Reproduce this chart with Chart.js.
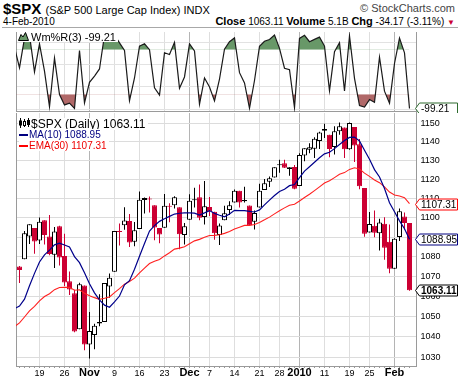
<!DOCTYPE html>
<html>
<head>
<meta charset="utf-8">
<script src="https://cdn.jsdelivr.net/npm/chart.js@4.4.1/dist/chart.umd.min.js"></script>
<style>
  html, body { margin:0; padding:0; background:#fff; }
  body { width:460px; height:383px; position:relative; overflow:hidden; font-family:"Liberation Sans", Arial, sans-serif; color:#000; }
  .abs { position:absolute; white-space:nowrap; }
  canvas { position:absolute; left:0; }
  #wr { top:32px; }
  #px { top:113px; }
  .lg { background:#fff; }
</style>
</head>
<body>
<div class="abs" style="left:3px;top:1px;font-weight:bold;font-size:15px;line-height:15px;">$SPX <span style="font-weight:normal;font-size:11px;">(S&amp;P 500 Large Cap Index) INDX</span></div>
<div class="abs" style="right:5px;top:3px;font-size:11px;line-height:11px;color:#444;">&copy; StockCharts.com</div>
<div class="abs" style="left:3px;top:16px;font-size:10px;line-height:11px;">4-Feb-2010</div>
<div class="abs" id="hquote" style="right:5px;top:15px;font-size:10px;line-height:12px;"></div>
<div class="abs" style="left:2px;top:27px;width:456px;height:1px;background:#a8a8a8;"></div>

<canvas id="wr" width="460" height="81"></canvas>
<canvas id="px" width="460" height="270"></canvas>

<div class="abs lg" style="left:18px;top:32px;font-size:11px;line-height:10px;padding-right:2px;"><svg width="11" height="9" style="vertical-align:top;margin-right:2px"><polygon points="0.5,8.5 3,2.5 5,5 7.5,0.5 10.5,8.5" fill="#689868" stroke="#000" stroke-width="1"/></svg>Wm%R(3) <span id="lgwr"></span></div>

<div class="abs lg" style="left:18px;top:118px;font-size:12px;line-height:12px;padding-right:2px;"><svg width="12" height="10" style="vertical-align:top;margin-right:1px"><line x1="2.5" y1="0" x2="2.5" y2="10" stroke="#000"/><rect x="1" y="2.5" width="3" height="5" fill="#000"/><line x1="6.5" y1="1" x2="6.5" y2="9" stroke="#000"/><rect x="5.5" y="3.5" width="2" height="4" fill="#fff" stroke="#000"/><line x1="10.5" y1="0" x2="10.5" y2="9" stroke="#000"/><rect x="9" y="2" width="3" height="5" fill="#000"/></svg>$SPX (Daily) <span id="lgpx"></span></div>
<div class="abs lg" style="left:19px;top:129px;font-size:10px;line-height:11px;color:#000080;padding-right:2px;"><span style="display:inline-block;width:9px;height:2px;background:#000080;vertical-align:middle;margin-right:1px"></span>MA(10) <span id="lgma"></span></div>
<div class="abs lg" style="left:19px;top:140px;font-size:10px;line-height:11px;color:#ee0000;padding-right:2px;"><span style="display:inline-block;width:9px;height:2px;background:#ff0000;vertical-align:middle;margin-right:1px"></span>EMA(30) <span id="lgema"></span></div>

<script>
// ---------------- DATA ----------------
const dates = ['10/12','10/13','10/14','10/15','10/16','10/19','10/20','10/21','10/22','10/23','10/26','10/27','10/28','10/29','10/30',
 '11/02','11/03','11/04','11/05','11/06','11/09','11/10','11/11','11/12','11/13','11/16','11/17','11/18','11/19','11/20','11/23','11/24','11/25','11/27','11/30',
 '12/01','12/02','12/03','12/04','12/07','12/08','12/09','12/10','12/11','12/14','12/15','12/16','12/17','12/18','12/21','12/22','12/23','12/24','12/28','12/29','12/30','12/31',
 '01/04','01/05','01/06','01/07','01/08','01/11','01/12','01/13','01/14','01/15','01/19','01/20','01/21','01/22','01/25','01/26','01/27','01/28','01/29',
 '02/01','02/02','02/03','02/04'];

const open = [1071.63,1074.96,1078.68,1090.36,1094.67,1088.22,1098.64,1090.36,1080.96,1095.62,1080.36,1067.54,1061.51,1043.69,1065.41,
 1036.18,1040.92,1047.30,1047.30,1064.95,1072.31,1092.64,1096.05,1098.31,1087.59,1094.13,1109.22,1109.44,1106.44,1094.66,1094.86,1105.83,1106.49,1105.47,1091.07,
 1098.89,1109.03,1110.59,1100.43,1105.52,1103.04,1091.07,1098.69,1103.96,1107.84,1114.11,1108.61,1106.36,1097.86,1105.31,1114.51,1118.84,1121.08,1127.53,1128.55,1125.53,1126.60,
 1116.56,1132.66,1135.71,1136.27,1140.52,1145.96,1143.81,1137.31,1145.68,1147.72,1136.03,1147.95,1138.68,1115.49,1092.40,1095.80,1091.94,1096.93,1087.61,
 1073.89,1090.05,1100.67,1097.25];

const high = [1079.46,1075.30,1093.17,1096.56,1094.67,1100.17,1098.64,1101.36,1095.21,1095.83,1091.75,1072.48,1063.26,1066.83,1065.41,
 1052.18,1046.36,1061.00,1066.65,1071.48,1093.19,1097.04,1105.37,1101.97,1097.79,1113.69,1110.52,1111.10,1106.44,1094.66,1112.38,1107.56,1111.18,1105.47,1097.24,
 1112.28,1115.58,1117.28,1119.13,1110.72,1103.04,1097.04,1106.25,1108.50,1114.76,1114.11,1116.21,1106.36,1103.74,1117.68,1120.27,1121.58,1126.48,1130.38,1130.38,1126.42,1127.64,
 1133.87,1136.63,1139.19,1142.46,1145.39,1149.74,1143.81,1148.40,1150.41,1147.77,1150.45,1147.95,1141.58,1115.49,1102.97,1103.69,1099.51,1100.22,1096.45,
 1089.38,1104.73,1102.72,1097.25];

const low = [1071.63,1066.71,1078.68,1086.41,1081.53,1086.48,1086.16,1080.77,1074.31,1075.49,1065.23,1060.62,1042.19,1043.69,1033.38,
 1029.38,1033.94,1045.15,1047.30,1059.32,1072.31,1085.66,1093.81,1084.90,1085.33,1094.13,1102.19,1102.70,1088.40,1086.81,1094.86,1097.63,1104.75,1083.74,1086.25,
 1098.89,1105.29,1098.74,1096.52,1100.83,1088.61,1085.89,1098.69,1101.34,1107.84,1105.35,1107.96,1095.88,1093.88,1105.31,1114.51,1116.00,1121.08,1123.51,1126.08,1121.94,1114.81,
 1116.56,1129.66,1133.95,1131.32,1136.22,1142.02,1131.77,1133.18,1143.80,1131.39,1135.77,1129.25,1114.84,1090.18,1092.40,1089.86,1083.11,1078.46,1071.59,
 1073.89,1087.96,1093.97,1062.78];

const close = [1076.19,1073.19,1092.02,1096.56,1087.68,1097.91,1091.06,1081.40,1092.91,1079.60,1066.95,1063.41,1042.63,1066.11,1036.19,
 1042.88,1045.41,1046.50,1066.63,1069.30,1093.08,1093.01,1098.51,1087.24,1093.48,1109.30,1110.32,1109.80,1094.90,1091.38,1106.24,1105.65,1110.63,1091.49,1095.63,
 1108.86,1109.24,1099.92,1105.98,1103.25,1091.94,1095.95,1102.35,1106.41,1114.11,1107.93,1109.18,1096.08,1102.47,1114.05,1118.02,1120.59,1126.48,1127.78,1126.20,1126.42,1115.10,
 1132.99,1136.52,1137.14,1141.69,1144.98,1146.98,1136.22,1145.68,1148.46,1136.03,1150.23,1138.04,1116.48,1091.76,1096.78,1092.17,1097.50,1084.53,1073.87,
 1089.19,1103.32,1097.28,1063.11];

const ma10 = [1053.87,1055.13,1058.62,1065.29,1071.54,1077.28,1080.92,1083.30,1086.04,1086.85,1085.93,1084.95,1080.01,1076.97,1071.82,
 1066.31,1061.75,1058.26,1055.63,1054.60,1057.21,1060.17,1065.76,1067.88,1073.60,1080.25,1086.74,1093.07,1095.89,1098.10,1099.42,1100.68,1101.89,1102.32,1102.53,
 1102.49,1102.38,1101.39,1102.50,1103.69,1102.26,1101.29,1100.46,1101.95,1103.80,1103.71,1103.70,1103.32,1102.97,1104.05,1106.66,1109.12,1111.53,1113.67,1114.88,1116.73,1117.32,
 1121.01,1124.42,1126.72,1129.09,1131.53,1133.58,1134.42,1136.37,1138.58,1140.67,1142.39,1142.55,1140.48,1135.49,1130.67,1125.19,1121.31,1115.20,1107.74,
 1103.06,1098.36,1094.29,1088.95];

const ema30 = [1045.00,1046.82,1049.74,1052.76,1055.01,1057.78,1059.93,1061.31,1063.35,1064.40,1064.57,1064.49,1063.08,1063.28,1061.53,
 1060.33,1059.36,1058.53,1059.06,1059.72,1061.87,1063.88,1066.11,1067.48,1069.15,1071.74,1074.23,1076.53,1077.71,1078.59,1080.38,1082.01,1083.85,1084.35,1085.07,
 1086.61,1088.07,1088.83,1089.94,1090.80,1090.87,1091.20,1091.92,1092.85,1094.22,1095.11,1096.02,1096.02,1096.44,1097.57,1098.89,1100.29,1101.98,1103.65,1105.10,1106.48,1107.03,
 1108.71,1110.50,1112.22,1114.12,1116.11,1118.10,1119.27,1120.98,1122.75,1123.61,1125.32,1126.14,1125.52,1123.34,1121.63,1119.73,1118.29,1116.12,1113.39,
 1111.83,1111.28,1110.38,1107.31];

const willR = [-16.8,-44.2,-4.3,0.0,-49.7,-12.1,-48.9,-96.9,-31.2,-80.4,-94.4,-92.1,-99.1,-21.0,-91.6,
 -64.0,-55.5,-45.9,-0.1,-8.3,-0.2,-10.7,-20.8,-88.6,-58.1,-15.2,-11.9,-19.9,-71.4,-81.2,-24.0,-26.3,-10.0,-71.8,-56.7,
 -12.0,-21.6,-93.6,-58.2,-70.2,-89.1,-59.5,-19.2,-9.2,-4.0,-50.9,-64.7,-99.0,-61.5,-15.3,-8.5,-6.1,0.0,-18.1,-44.9,-46.9,-98.1,
 -4.6,-0.5,-9.1,-6.0,-2.9,-15.0,-75.2,-22.6,-10.5,-75.6,-1.2,-58.5,-95.4,-97.3,-87.2,-91.0,-30.1,-75.9,-92.0,
 -38.5,-4.3,-24.2,-99.21];

const tickDates = ['10/19','10/26','11/02','11/09','11/16','11/23','12/01','12/07','12/14','12/21','12/28','01/04','01/11','01/19','01/25','02/01'];
const tickTexts = ['19','26','Nov','9','16','23','Dec','7','14','21','28','2010','11','19','25','Feb'];
const monthLabels = ['Nov','Dec','2010','Feb'];
const priceTicks = [1030,1040,1050,1060,1070,1080,1090,1100,1110,1120,1130,1140,1150];
const wrTicks = [-100,-90,-80,-70,-60,-50,-40,-30,-20,-10,0];
const wrLabelled = [-20,-50,-80];
const volumeText = '5.1B';

// ---------------- STYLE / LAYOUT ----------------
const FONT = '"Liberation Sans", Arial, sans-serif';
const X_MIN = 0.3, X_MAX = 80.4;
const PRICE_MIN = 1025.8, PRICE_MAX = 1155.6;
const WR_MIN = -104, WR_MAX = 4;
const RED = '#cc0033';
const GREEN_FILL = '#689868';
const RED_FILL = '#b06868';
const AXIS_W = 43.5;
const CLIP = { left: 0, top: 0, right: 0, bottom: 0 };

const last = a => a[a.length - 1];
const labelAt = {};
tickDates.forEach((d, k) => { labelAt[dates.indexOf(d)] = tickTexts[k]; });

const upDay = close.map((c, i) => i === 0 ? c >= open[i] : c >= close[i - 1]);
const hollow = close.map((c, i) => c >= open[i]);
const candleColor = upDay.map(u => u ? '#000000' : RED);
const bodyFill = hollow.map((h, i) => h ? '#ffffff' : candleColor[i]);

// only the trading days that fall inside the visible window get a candle
const visible = dates.map((d, i) => i).filter(i => i >= X_MIN);

// header texts
const chg = last(close) - close[close.length - 2];
const pct = chg / close[close.length - 2] * 100;
document.getElementById('hquote').innerHTML =
  '<b style="font-size:11px">Close</b> ' + last(close).toFixed(2) +
  ' <b style="font-size:11px">Volume</b> ' + volumeText +
  ' <b style="font-size:11px">Chg</b> ' + chg.toFixed(2) + ' (' + pct.toFixed(2) + '%) ' +
  '<span style="color:#cc0033;font-size:8px;">&#9660;</span>';
document.getElementById('lgwr').textContent = last(willR).toFixed(2);
document.getElementById('lgpx').textContent = last(close).toFixed(2);
document.getElementById('lgma').textContent = last(ma10).toFixed(2);
document.getElementById('lgema').textContent = last(ema30).toFixed(2);

// ---------------- PLUGINS ----------------
const framePlugin = {
  id: 'frame',
  beforeDatasetsDraw(chart, args, opts) {
    const { ctx, chartArea: a } = chart;
    ctx.save();
    ctx.strokeStyle = '#9a9a9a';
    ctx.lineWidth = 1;
    ctx.beginPath();
    const lx = Math.floor(a.left) + 0.5;
    ctx.moveTo(lx, a.top); ctx.lineTo(lx, a.bottom);
    if (opts && opts.bottom) { const by = Math.floor(a.bottom) - 0.5; ctx.moveTo(a.left, by); ctx.lineTo(a.right, by); }
    ctx.stroke();
    ctx.restore();
  }
};

const tagPlugin = {
  id: 'tags',
  afterDraw(chart, args, opts) {
    const { ctx, chartArea: a } = chart;
    (opts.items || []).forEach(t => {
      const yc = Math.round(chart.scales[t.axis].getPixelForValue(t.value));
      const y = yc + 0.5;
      const x0 = Math.floor(a.right) - 0.5, x1 = x0 + 4, x2 = 457.5, h = 5.5;
      ctx.save();
      ctx.beginPath();
      ctx.moveTo(x0, y); ctx.lineTo(x1, y - h); ctx.lineTo(x2, y - h); ctx.lineTo(x2, y + h); ctx.lineTo(x1, y + h); ctx.closePath();
      ctx.fillStyle = '#fff'; ctx.fill();
      ctx.lineWidth = 1; ctx.strokeStyle = t.color; ctx.stroke();
      ctx.fillStyle = '#000';
      ctx.font = (t.bold ? 'bold ' : '') + '10px ' + FONT;
      ctx.textBaseline = 'middle'; ctx.textAlign = 'left';
      ctx.fillText(t.text, x1 + 1.5, y + 0.5);
      ctx.restore();
    });
  }
};

function xScale(showLabels) {
  return {
    type: 'linear', min: X_MIN, max: X_MAX, offset: false,
    afterBuildTicks: s => { s.ticks = visible.map(i => ({ value: i })); },
    grid: {
      offset: false, drawTicks: showLabels, tickLength: 2, tickColor: '#9a9a9a',
      color: c => {
        const t = c.tick ? labelAt[c.tick.value] : undefined;
        if (t === undefined) return 'rgba(0,0,0,0)';
        return monthLabels.includes(t) ? '#b4b4b4' : '#dedede';
      }
    },
    border: { display: showLabels, color: '#9a9a9a' },
    ticks: {
      display: showLabels, autoSkip: false, maxRotation: 0, minRotation: 0, padding: 0, color: '#000',
      font: c => {
        const t = c.tick ? labelAt[c.tick.value] : undefined;
        return monthLabels.includes(t) ? { family: FONT, size: 11, weight: 'bold', lineHeight: 0.98 } : { family: FONT, size: 9 };
      },
      callback: v => (labelAt[v] !== undefined ? labelAt[v] : '')
    },
    afterFit: s => { s.height = showLabels ? 17 : 0; s.paddingLeft = 0; s.paddingRight = 0; }
  };
}

const pts = arr => arr.map((v, i) => ({ x: i, y: v }));

// ---------------- WILLIAMS %R PANEL ----------------
new Chart(document.getElementById('wr'), {
  type: 'line',
  data: {
    datasets: [
      { data: pts(willR), borderColor: '#1a1a1a', borderWidth: 1.2, pointRadius: 0, tension: 0, clip: CLIP, order: 0,
        fill: { target: { value: -20 }, above: GREEN_FILL, below: 'rgba(0,0,0,0)' } },
      { data: pts(willR), borderColor: 'rgba(0,0,0,0)', borderWidth: 0, pointRadius: 0, tension: 0, clip: CLIP, order: 1,
        fill: { target: { value: -80 }, above: 'rgba(0,0,0,0)', below: RED_FILL } }
    ]
  },
  options: {
    responsive: false, animation: false, devicePixelRatio: 1, events: [],
    layout: { padding: { left: 16, right: 0, top: 0, bottom: 1 }, autoPadding: false },
    plugins: { legend: { display: false }, tooltip: { enabled: false }, frame: { bottom: true },
      tags: { items: [{ axis: 'y', value: last(willR), color: '#2e6b2e', text: last(willR).toFixed(2) }] } },
    scales: {
      x: xScale(false),
      y: {
        type: 'linear', position: 'right', min: WR_MIN, max: WR_MAX,
        afterBuildTicks: s => { s.ticks = wrTicks.map(v => ({ value: v })); },
        grid: { drawTicks: false, color: c => {
          const v = c.tick ? c.tick.value : null;
          return (v === -20 || v === -80) ? '#7a7a7a' : (v === -50 ? '#8a8a8a' : '#e2e2e2');
        } },
        border: { display: true, color: '#9a9a9a', dash: c => (c.tick && c.tick.value === -50) ? [7, 2, 2, 2] : [] },
        ticks: { padding: 4, color: '#000', font: { family: FONT, size: 9 }, callback: v => (wrLabelled.includes(v) ? String(v) : '') },
        afterFit: s => { s.width = AXIS_W; s.paddingTop = 0; s.paddingBottom = 0; }
      }
    }
  },
  plugins: [framePlugin, tagPlugin]
});

// ---------------- PRICE PANEL ----------------
new Chart(document.getElementById('px'), {
  type: 'bar',
  data: {
    datasets: [
      { type: 'line', data: pts(ma10), borderColor: '#00008b', borderWidth: 1.2, pointRadius: 0, tension: 0, clip: CLIP, order: 0, fill: false },
      { type: 'line', data: pts(ema30), borderColor: '#ff2020', borderWidth: 1.1, pointRadius: 0, tension: 0, clip: CLIP, order: 1, fill: false },
      { type: 'bar', data: visible.map(i => ({ x: i, y: [open[i], close[i]] })),
        backgroundColor: visible.map(i => bodyFill[i]), borderColor: visible.map(i => candleColor[i]), borderWidth: 1, borderSkipped: false,
        barThickness: 5, grouped: false, minBarLength: 1, inflateAmount: 0, clip: CLIP, order: 2 },
      { type: 'bar', data: visible.map(i => ({ x: i, y: [low[i], high[i]] })),
        backgroundColor: visible.map(i => candleColor[i]), borderWidth: 0, barThickness: 1, grouped: false, inflateAmount: 0, clip: CLIP, order: 3 }
    ]
  },
  options: {
    responsive: false, animation: false, devicePixelRatio: 1, events: [],
    layout: { padding: { left: 16, right: 0, top: 0, bottom: 0 }, autoPadding: false },
    plugins: { legend: { display: false }, tooltip: { enabled: false }, frame: { bottom: false },
      tags: { items: [
        { axis: 'y', value: last(ema30), color: '#ff0000', text: last(ema30).toFixed(2) },
        { axis: 'y', value: last(ma10), color: '#000080', text: last(ma10).toFixed(2) },
        { axis: 'y', value: last(close), color: '#000000', text: last(close).toFixed(2), bold: true }
      ] } },
    scales: {
      x: xScale(true),
      y: {
        type: 'logarithmic', position: 'right', min: PRICE_MIN, max: PRICE_MAX, bounds: 'data',
        afterBuildTicks: s => { s.ticks = priceTicks.map(v => ({ value: v })); },
        grid: { color: '#dcdcdc', drawTicks: false },
        border: { display: true, color: '#9a9a9a' },
        ticks: { padding: 4, color: '#000', font: { family: FONT, size: 9 }, callback: v => String(v) },
        afterFit: s => { s.width = AXIS_W; s.paddingTop = 0; s.paddingBottom = 0; }
      }
    }
  },
  plugins: [framePlugin, tagPlugin]
});
</script>
</body>
</html>
